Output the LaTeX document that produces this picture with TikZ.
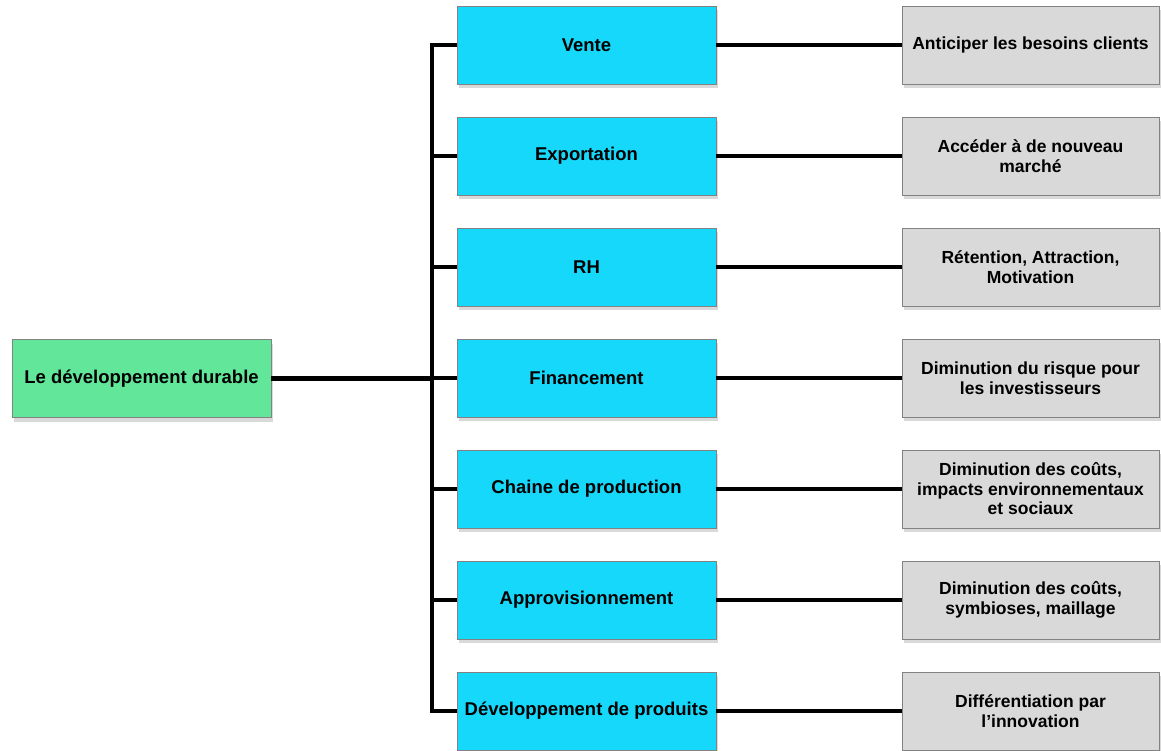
\documentclass[tikz,border=0pt]{standalone}
\usepackage{fontspec}
\setmainfont{Liberation Sans}
\usetikzlibrary{shadows}
\definecolor{gfill}{RGB}{98,230,154}
\definecolor{bfill}{RGB}{22,216,250}
\definecolor{cfill}{RGB}{217,217,217}
\definecolor{edge}{RGB}{130,130,130}
\tikzset{
  box/.style={draw=edge, line width=0.8pt, minimum width=259pt, minimum height=78pt, inner sep=0pt, align=center, font=\bfseries\fontsize{18.5}{20}\selectfont, drop shadow={shadow xshift=2pt, shadow yshift=-4pt, opacity=0.3}},
  rootbox/.style={box, fill=gfill},
  midbox/.style={box, fill=bfill},
  leafbox/.style={box, fill=cfill, minimum width=257pt, font=\bfseries\fontsize{17.5}{19.5}\selectfont},
  wire/.style={line width=4.5pt, line join=miter}
}
\begin{document}
\begin{tikzpicture}[x=1pt,y=-1pt]
\useasboundingbox (0,0) rectangle (1161,750);
\node[rootbox] (root) at (141.5,378.5) {Le développement durable};
\foreach \i/\m/\l in {
  1/Vente/{Anticiper les besoins clients},
  2/Exportation/{Accéder à de nouveau\\marché},
  3/RH/{Rétention, Attraction,\\Motivation},
  4/Financement/{Diminution du risque pour\\les investisseurs},
  5/Chaine de production/{Diminution des coûts,\\impacts environnementaux\\et sociaux},
  6/Approvisionnement/{Diminution des coûts,\\symbioses, maillage},
  7/Développement de produits/{Différentiation par\\l’innovation}} {
  \pgfmathsetmacro{\yy}{45+111*(\i-1)}
  \node[midbox] (m\i) at (586.5,\yy) {\m};
  \node[leafbox] (l\i) at (1030.5,\yy) {\l};
}
\coordinate (bt) at (432,45);
\coordinate (bb) at (432,711);
\coordinate (bm) at (432,378.5);
\draw[wire] (root.east) -- (bm);
\draw[wire] (m1.west) -- (bt) -- (bb) -- (m7.west);
\foreach \i in {2,...,6} {
  \draw[wire] (m\i.west) -- (m\i.west -| bt);
}
\foreach \i in {1,...,7} {
  \draw[wire] (m\i.east) -- (l\i.west);
}
\end{tikzpicture}
\end{document}
